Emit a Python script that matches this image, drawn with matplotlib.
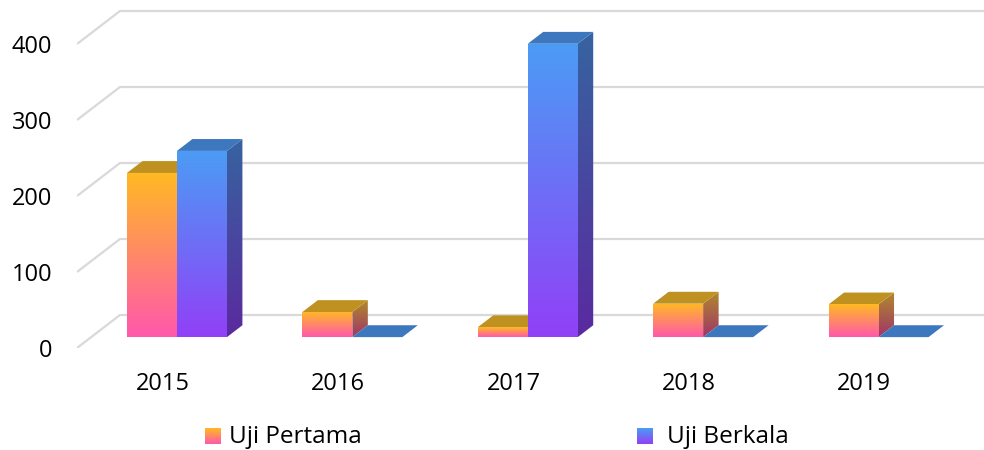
import numpy as np
import matplotlib
matplotlib.use("Agg")
import matplotlib.pyplot as plt
from matplotlib.colors import LinearSegmentedColormap
from matplotlib.patches import Polygon

# data
years = ["2015", "2016", "2017", "2018", "2019"]
uji_pertama = [216, 33, 13, 44, 43]
uji_berkala = [245, 0, 386, 0, 0]
y_ticks = [0, 100, 200, 300, 400]
series_names = ["Uji Pertama", "Uji Berkala"]

# look of each series: front gradient (bottom, top), side gradient (bottom, top), top face
styles = [
    dict(front=("#FF58AC", "#FFBA22"), side=("#A0356A", "#B08A2A"), top="#BF9121"),
    dict(front=("#9140F7", "#4B9CF5"), side=("#5A2A9F", "#36649F"), top="#3D77BD"),
]

plt.rcParams["font.family"] = ["Open Sans", "DejaVu Sans"]

# oblique "3d" projection in data units
DX = 0.245    # full floor depth, x units
DY = 43.4     # full floor depth, value units
D0, D1 = 0.33, 0.69   # bars sit in the middle of the depth
BAR_W = 0.285
X_MIN = -0.489


def proj(x, v, d):
    return x + d * DX, v + d * DY


def grad_fill(ax, verts, c_bottom, c_top, z):
    cmap = LinearSegmentedColormap.from_list("g", [c_bottom, c_top])
    poly = Polygon(verts, closed=True, facecolor="none", edgecolor="none", zorder=z)
    ax.add_patch(poly)
    xs = [p[0] for p in verts]
    ys = [p[1] for p in verts]
    img = ax.imshow(np.linspace(0, 1, 256).reshape(-1, 1), cmap=cmap, origin="lower",
                    extent=[min(xs), max(xs), min(ys), max(ys)], aspect="auto",
                    interpolation="bilinear", zorder=z)
    img.set_clip_path(poly)


def draw_bar(ax, x0, value, st, z):
    x1 = x0 + BAR_W
    # side face
    side = [proj(x1, 0, D0), proj(x1, 0, D1), proj(x1, value, D1), proj(x1, value, D0)]
    if value > 0:
        grad_fill(ax, side, st["side"][0], st["side"][1], z)
    # top face
    top = [proj(x0, value, D0), proj(x1, value, D0), proj(x1, value, D1), proj(x0, value, D1)]
    ax.add_patch(Polygon(top, closed=True, facecolor=st["top"], edgecolor="none", zorder=z + 0.1))
    # front face
    if value > 0:
        front = [proj(x0, 0, D0), proj(x1, 0, D0), proj(x1, value, D0), proj(x0, value, D0)]
        grad_fill(ax, front, st["front"][0], st["front"][1], z + 0.2)


fig = plt.figure(figsize=(9.84, 4.5), dpi=100)
ax = fig.add_axes([77 / 984, 102 / 450, 907 / 984, 342 / 450])
x_lim = (X_MIN, X_MIN + 907 / 175.4)

# gridlines: slant on left wall, then along the back wall
for v in y_ticks:
    xa, ya = proj(X_MIN, v, 0)
    xb, yb = proj(X_MIN, v, 1)
    ax.plot([xa, xb, 6], [ya, yb, yb], color="#D9D9D9", lw=1.6, zorder=1,
            solid_capstyle="butt")

z = 3
for i in range(len(years)):
    draw_bar(ax, i - BAR_W, uji_pertama[i], styles[0], z)
    z += 1
    draw_bar(ax, i, uji_berkala[i], styles[1], z)
    z += 1

ax.set_xticks(range(len(years)), years)
ax.set_yticks(y_ticks)
ax.tick_params(length=0, labelsize=17, colors="black")
ax.tick_params(axis="x", pad=17)
ax.tick_params(axis="y", pad=18)
for s in ax.spines.values():
    s.set_visible(False)
ax.set_xlim(*x_lim)
ax.set_ylim(0, 450)

# legend with gradient swatches
legend_pos = [(205, 229), (637, 667)]
for k, name in enumerate(series_names):
    sq_x, tx = legend_pos[k]
    lax = fig.add_axes([sq_x / 984, 6 / 450, 16 / 984, 16 / 450])
    cmap = LinearSegmentedColormap.from_list("l", list(styles[k]["front"]))
    lax.imshow(np.linspace(0, 1, 64).reshape(-1, 1), cmap=cmap, origin="lower",
               aspect="auto", extent=[0, 1, 0, 1])
    lax.axis("off")
    fig.text(tx / 984, 13 / 450, name, fontsize=17.5, va="center", ha="left")

fig.savefig("out.png", dpi=100)
